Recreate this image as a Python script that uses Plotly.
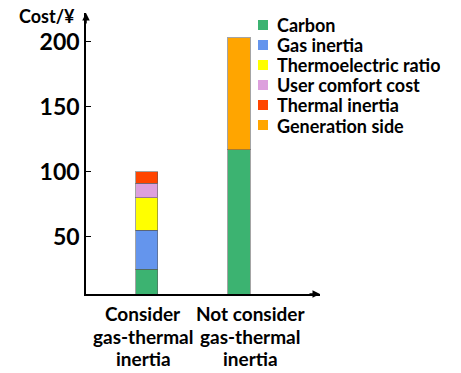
import plotly.graph_objects as go

# Cost breakdown for the two scheduling cases
categories = ["Consider<br>gas-thermal<br>inertia", "Not consider<br>gas-thermal<br>inertia"]
carbon = [25, 117]
gas_inertia = [30, None]
thermoelectric_ratio = [25, None]
user_comfort_cost = [11, None]
thermal_inertia = [9, None]
generation_side = [None, 86]

y_ticks = [50, 100, 150, 200]

series = [
    ("Carbon", carbon, "#3CB371"),
    ("Gas inertia", gas_inertia, "#6495ED"),
    ("Thermoelectric ratio", thermoelectric_ratio, "#FFFF00"),
    ("User comfort cost", user_comfort_cost, "#DDA0DD"),
    ("Thermal inertia", thermal_inertia, "#FF4500"),
    ("Generation side", generation_side, "#FFA500"),
]

FONT = "Lato"
W, H = 461, 373
ML, MR, MT, MB = 86, 141, 13, 79
PW, PH = W - ML - MR, H - MT - MB


def px_x(px):
    return (px - ML) / PW


def px_y(py):
    return (H - MB - py) / PH


fig = go.Figure()
for name, vals, color in series:
    fig.add_trace(go.Bar(
        x=[0, 1], y=vals, name=name, width=0.24, showlegend=False,
        marker=dict(color=color, line=dict(color="rgba(90,90,90,0.55)", width=1)),
    ))

# Compact key to the right of the bars
shapes, annotations = [], []
for i, (name, _, color) in enumerate(series):
    cy = 25 + 20 * i
    shapes.append(dict(type="rect", xref="paper", yref="paper",
                       x0=px_x(258), x1=px_x(268), y0=px_y(cy + 5), y1=px_y(cy - 5),
                       fillcolor=color, line=dict(width=0)))
    annotations.append(dict(x=px_x(276), y=px_y(cy), xref="paper", yref="paper",
                            xanchor="left", yanchor="middle", text=f"<b>{name}</b>",
                            height=19, borderpad=0,
                            showarrow=False, font=dict(family=FONT, size=18, color="black")))

# Category captions under the axis, one text line at a time for tight spacing
for cx, label in zip([143, 250], categories):
    for j, line in enumerate(label.split("<br>")):
        annotations.append(dict(x=px_x(cx), y=px_y(313 + 22.5 * j), xref="paper", yref="paper",
                                xanchor="center", yanchor="middle", text=f"<b>{line}</b>",
                                height=22, borderpad=0,
                                showarrow=False, font=dict(family=FONT, size=19, color="black")))

annotations += [
    dict(x=0, y=1, xref="paper", yref="paper", ax=0, ay=12, axref="pixel", ayref="pixel",
         text="", showarrow=True, arrowhead=2, arrowsize=1, arrowwidth=1.5, arrowcolor="black"),
    dict(x=1, y=0, xref="paper", yref="paper", ax=-12, ay=0, axref="pixel", ayref="pixel",
         text="", showarrow=True, arrowhead=2, arrowsize=1, arrowwidth=1.5, arrowcolor="black"),
    dict(x=px_x(77), y=px_y(16), xref="paper", yref="paper", xanchor="right", yanchor="middle",
         text="<b>Cost/¥</b>", showarrow=False,
         font=dict(family=FONT, size=18, color="black")),
]

fig.update_layout(
    width=W, height=H,
    margin=dict(l=ML, r=MR, t=MT, b=MB),
    barmode="stack",
    plot_bgcolor="white", paper_bgcolor="white",
    font=dict(family=FONT, color="black"),
    showlegend=False,
    xaxis=dict(
        range=[-0.658, 1.878], showticklabels=False, automargin=False,
        showline=True, linecolor="black", linewidth=1.5, ticks="",
        showgrid=False, zeroline=False,
    ),
    yaxis=dict(
        range=[6, 222], tickmode="array", tickvals=y_ticks, automargin=False,
        showline=True, linecolor="black", linewidth=1.5,
        ticks="inside", ticklen=5, tickcolor="black",
        showgrid=False, zeroline=False,
        tickfont=dict(family=FONT, size=23, color="black", weight="bold"),
    ),
    shapes=shapes,
    annotations=annotations,
)

fig.write_html("out.html")
